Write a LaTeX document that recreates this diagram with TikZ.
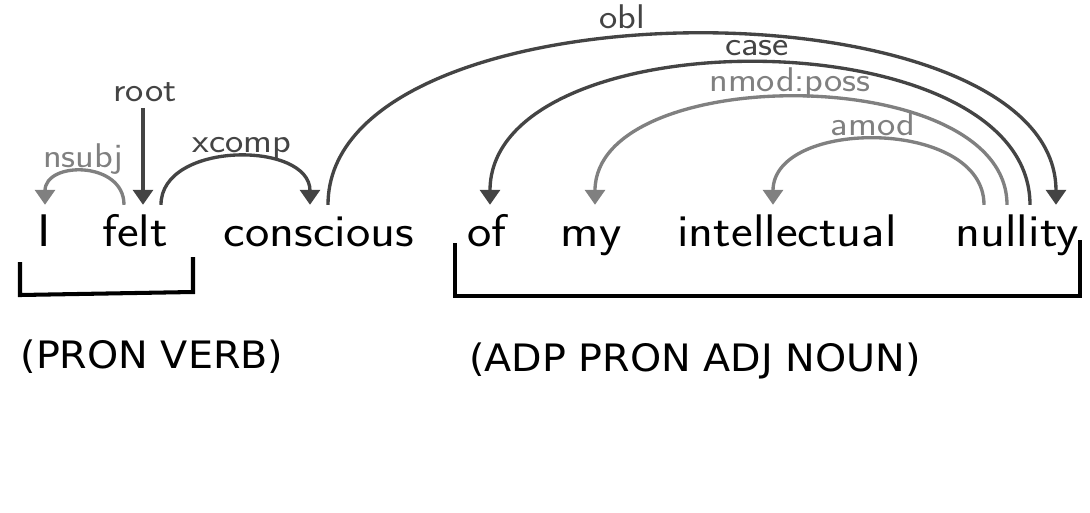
\documentclass[tikz,border=0pt]{standalone}
\usepackage{fontspec}
\newfontfamily\wordfont[FakeStretch=1.13]{Latin Modern Sans}
\newfontfamily\tagfont[FakeStretch=1.05]{DejaVu Sans}
\usetikzlibrary{arrows.meta,calc}
\definecolor{arcdark}{HTML}{444444}
\definecolor{arclight}{HTML}{808080}

\begin{document}
\begin{tikzpicture}[
  x=0.02cm, y=-0.02cm,
  word/.style={anchor=base, inner sep=0pt, text height=18.7pt, font=\wordfont\fontsize{26}{31}\selectfont},
  deplabel/.style={anchor=base, inner sep=0pt, font=\wordfont\fontsize{19.5}{23}\selectfont},
  tagline/.style={anchor=base, inner sep=0pt, font=\tagfont\fontsize{21.5}{25}\selectfont},
  dep/.style={-{Triangle[width=11.3pt,length=8.5pt]}, line width=1.9pt},
  strong/.style={dep, draw=arcdark},
  weak/.style={dep, draw=arclight},
  bracket/.style={line width=2.3pt, black},
]
  \useasboundingbox[fill=white] (0,0) rectangle (1090,512);

  % words
  \node[word] (I) at (44,246) {I};
  \node[word] (felt) at (135,246) {felt};
  \node[word] (conscious) at (319,246) {conscious};
  \node[word] (of) at (487,246) {of};
  \node[word] (my) at (591,246) {my};
  \node[word] (intellectual) at (787,246) {intellectual};
  \node[word] (nullity) at (1017,246) {nullity};

  % root
  \coordinate (roottop) at ($(felt.north)+(8,-105)$);
  \draw[strong] (roottop) -- ($(felt.north)+(8,-8)$);
  \node[deplabel, text=arcdark] (lroot) at (145,101) {root};

  % arcs
  \draw[weak] ($(felt.north)+(-11,-8)$) .. controls +(0,-44) and +(0,-44) .. ($(I.north)+(1,-8)$);
  \draw[strong] ($(felt.north)+(26,-8)$) .. controls +(0,-64) and +(0,-64) .. ($(conscious.north)+(-9,-8)$);
  \draw[strong] ($(conscious.north)+(9,-8)$) .. controls +(0,-227) and +(0,-227) .. ($(nullity.north)+(39,-8)$);
  \draw[strong] ($(nullity.north)+(13,-8)$) .. controls +(0,-189) and +(0,-189) .. ($(of.north)+(3,-8)$);
  \draw[weak] ($(nullity.north)+(-10,-8)$) .. controls +(0,-143) and +(0,-143) .. ($(my.north)+(4,-8)$);
  \draw[weak] ($(nullity.north)+(-33,-8)$) .. controls +(0,-87) and +(0,-87) .. ($(intellectual.north)+(-14,-8)$);

  % labels
  \node[deplabel, text=arclight] (lnsubj) at (83,167) {nsubj};
  \node[deplabel, text=arcdark] (lxcomp) at (242,152) {xcomp};
  \node[deplabel, text=arcdark] (lobl) at (622,28) {obl};
  \node[deplabel, text=arcdark] (lcase) at (757,55) {case};
  \node[deplabel, text=arclight] (lnmod) at (790,91) {nmod:poss};
  \node[deplabel, text=arclight] (lamod) at (873,135) {amod};

  % brackets
  \draw[bracket] (20,262) -- (20,295) -- (193,292) -- (193,257);
  \draw[bracket] (455,243) -- (455,296) -- (1080,296) -- (1080,240);

  % tags
  \node[tagline] (tagleft) at (152,368) {(PRON VERB)};
  \node[tagline] (tagright) at (695,371) {(ADP PRON ADJ NOUN)};
\end{tikzpicture}
\end{document}
